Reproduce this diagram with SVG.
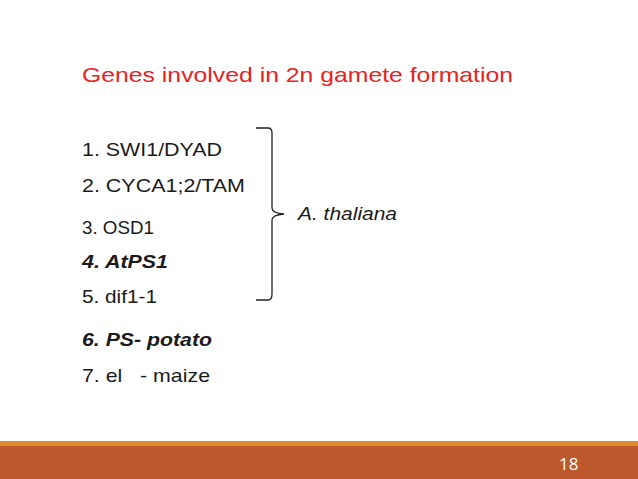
<svg xmlns="http://www.w3.org/2000/svg" width="638" height="479" viewBox="0 0 638 479">
<style>
text{font-family:"Liberation Sans",Arial,sans-serif;font-size:18.5px;fill:#1a1a1a}
.b{font-weight:bold;font-style:italic}
</style>
<rect width="638" height="479" fill="#fff"/>
<rect x="0" y="441" width="638" height="5" fill="#e0892a"/>
<rect x="0" y="446" width="638" height="33" fill="#bd582c"/>
<text x="559" y="470" style="fill:#fff;font-family:'Open Sans',sans-serif;font-size:17px">18</text>
<g id="title"><text x="82" y="82" textLength="431" lengthAdjust="spacingAndGlyphs" style="fill:#e8221c;font-size:21px">Genes involved in 2n gamete formation</text></g>
<g id="list">
<text x="82" y="156" textLength="140" lengthAdjust="spacingAndGlyphs">1. SWI1/DYAD</text>
<text x="82" y="192" textLength="163" lengthAdjust="spacingAndGlyphs">2. CYCA1;2/TAM</text>
<text x="82" y="234" textLength="72" lengthAdjust="spacingAndGlyphs">3. OSD1</text>
<text x="82" y="268" class="b" textLength="86" lengthAdjust="spacingAndGlyphs">4. AtPS1</text>
<text x="82" y="303" textLength="75" lengthAdjust="spacingAndGlyphs">5. dif1-1</text>
<text x="82" y="346" class="b" textLength="130" lengthAdjust="spacingAndGlyphs">6. PS- potato</text>
<text x="82" y="382" xml:space="preserve" textLength="128" lengthAdjust="spacingAndGlyphs">7. el   - maize</text>
</g>
<g id="brace" fill="none" stroke="#222" stroke-width="1.3">
<path d="M256,128 L268,128 Q272,128 272,133 L272,208 Q272,213 284,214 Q272,215 272,220 L272,294 Q272,300 268,300 L256,300"/>
</g>
<g id="label"><text x="298" y="220" textLength="99" lengthAdjust="spacingAndGlyphs" style="font-style:italic">A. thaliana</text></g>
</svg>
